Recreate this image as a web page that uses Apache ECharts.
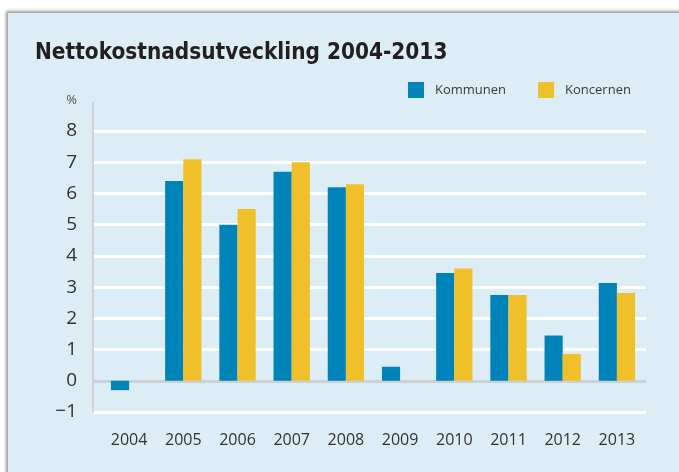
<!DOCTYPE html>
<html><head><meta charset="utf-8">
<script src="https://cdn.jsdelivr.net/npm/echarts@6/dist/echarts.min.js"></script>
<style>
html,body{margin:0;padding:0;background:#fff;width:679px;height:472px;overflow:hidden;}
#panel{position:absolute;left:8px;top:13px;width:700px;height:480px;background:#ddedf6;box-shadow:-2px -2px 3px #9a9a9a;}
#chart{position:absolute;left:0;top:0;width:679px;height:472px;}
</style></head>
<body>
<div id="panel"></div>
<div id="chart"></div>
<script>
const categories = ['2004','2005','2006','2007','2008','2009','2010','2011','2012','2013'];
const kommunen = [-0.3, 6.4, 5.0, 6.7, 6.2, 0.45, 3.45, 2.75, 1.45, 3.13];
const koncernen = [null, 7.1, 5.5, 7.0, 6.3, null, 3.6, 2.75, 0.86, 2.81];
const seriesNames = ['Kommunen', 'Koncernen'];
const titleText = 'Nettokostnadsutveckling 2004-2013';
const unitLabel = '%';

const chart = echarts.init(document.getElementById('chart'));
const splitColors = ['#ffffff', '#ccd1d4', '#ffffff', '#ffffff', '#ffffff', '#ffffff', '#ffffff', '#ffffff', '#ffffff', '#ffffff', 'rgba(0,0,0,0)'];
const font = "'Open Sans',sans-serif";
chart.setOption({
  backgroundColor: 'transparent',
  animation: false,
  title: {
    text: titleText, left: 30, top: 37,
    textStyle: { fontFamily: "'DejaVu Sans Condensed','Liberation Sans Narrow',sans-serif", fontWeight: 'bold', fontSize: 22.4, color: '#231f20' }
  },
  legend: {
    data: seriesNames, left: 408, top: 82, padding: 0, itemWidth: 16, itemHeight: 16, itemGap: 32,
    icon: 'rect',
    textStyle: { fontFamily: font, fontSize: 13, color: '#3a3a3a', padding: [0, 0, 0, 6] }
  },
  grid: [
    { left: 93, right: 33, top: 103, bottom: 60 },
    { left: 102, right: 35, top: 103, bottom: 60 }
  ],
  xAxis: [
    { type: 'category', gridIndex: 0, data: categories, show: false },
    {
      type: 'category', gridIndex: 1, data: categories,
      axisLine: { show: false }, axisTick: { show: false },
      axisLabel: { fontFamily: font, fontSize: 16, color: '#333', margin: 20 }
    }
  ],
  yAxis: [
    {
      type: 'value', gridIndex: 0, min: -1, max: 8.9, interval: 1,
      name: unitLabel, nameLocation: 'end', nameGap: -4,
      nameTextStyle: { fontFamily: font, fontSize: 13, color: '#555', align: 'right', padding: [0, 16, 0, 0] },
      axisLine: { show: true, lineStyle: { color: '#cfd3d6', width: 2 } },
      axisTick: { show: false },
      axisLabel: {
        showMaxLabel: false, margin: 16,
        fontFamily: font, fontSize: 19, color: '#333',
        formatter: v => String(v).replace('-', '\u2212')
      },
      splitLine: { show: true, lineStyle: { color: splitColors, width: 3 } }
    },
    { type: 'value', gridIndex: 1, min: -1, max: 8.9, interval: 1, show: false, splitLine: { show: false } }
  ],
  series: [
    { name: seriesNames[0], type: 'bar', xAxisIndex: 1, yAxisIndex: 1, data: kommunen, itemStyle: { color: '#0083b8' }, barGap: 0, barCategoryGap: '33%' },
    { name: seriesNames[1], type: 'bar', xAxisIndex: 1, yAxisIndex: 1, data: koncernen, itemStyle: { color: '#efc02a' }, barGap: 0, barCategoryGap: '33%' }
  ]
});
</script>
</body></html>
